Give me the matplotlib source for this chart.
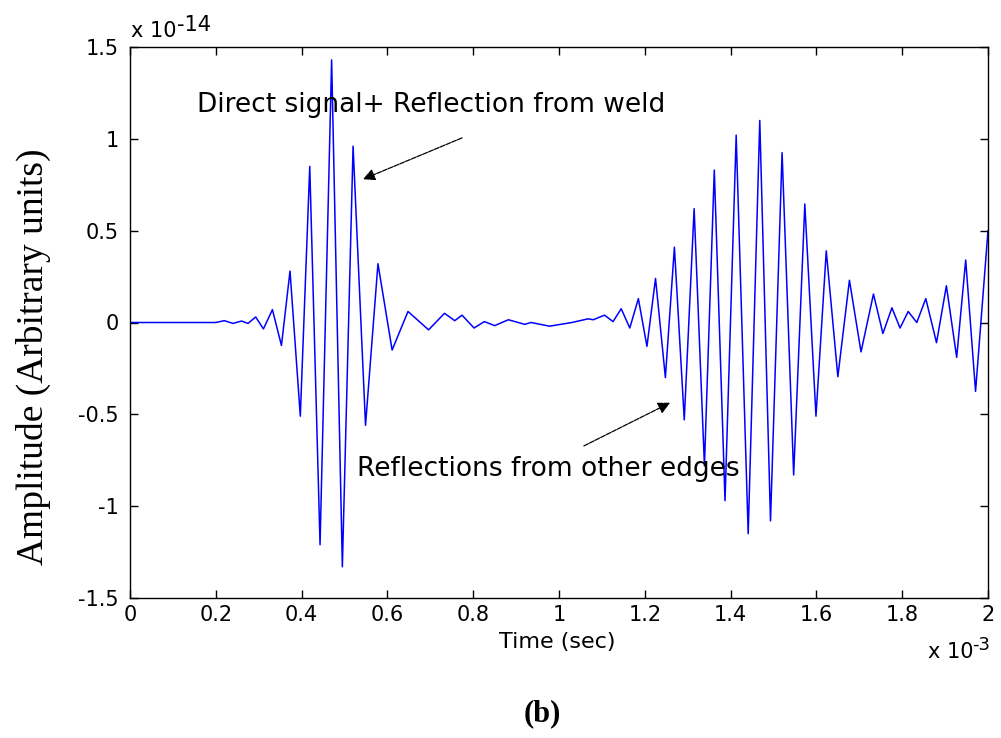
import matplotlib
matplotlib.use("Agg")
import matplotlib.pyplot as plt
import numpy as np

# received waveform, peak-to-peak turning points
# time in ms (x 10^-3 s), amplitude in units of 10^-14
time_ms = [0.0, 0.12, 0.20, 0.22, 0.24, 0.26, 0.275, 0.293, 0.311, 0.332,
           0.353, 0.373, 0.397, 0.419, 0.443, 0.470, 0.495, 0.520, 0.549, 0.578,
           0.611, 0.648, 0.696, 0.733, 0.757, 0.774, 0.802, 0.826, 0.850, 0.882,
           0.920, 0.935, 0.978, 1.030, 1.068, 1.080, 1.106, 1.126, 1.145, 1.165,
           1.185, 1.205, 1.225, 1.248, 1.269, 1.292, 1.315, 1.339, 1.362, 1.387,
           1.413, 1.441, 1.468, 1.493, 1.520, 1.547, 1.573, 1.599, 1.623, 1.650,
           1.677, 1.704, 1.733, 1.755, 1.776, 1.795, 1.814, 1.834, 1.855, 1.880,
           1.903, 1.927, 1.948, 1.971, 2.0]
amplitude = [0.0, 0.0, 0.0, 0.01, -0.005, 0.008, -0.005, 0.03, -0.035, 0.07,
             -0.125, 0.28, -0.51, 0.85, -1.21, 1.43, -1.33, 0.96, -0.56, 0.32,
             -0.15, 0.06, -0.04, 0.05, 0.01, 0.04, -0.03, 0.005, -0.017, 0.015,
             -0.01, 0.0, -0.02, 0.0, 0.02, 0.015, 0.04, 0.005, 0.075, -0.03,
             0.13, -0.13, 0.24, -0.30, 0.41, -0.53, 0.62, -0.78, 0.83, -0.97,
             1.02, -1.15, 1.10, -1.08, 0.925, -0.83, 0.645, -0.51, 0.39, -0.295,
             0.23, -0.16, 0.155, -0.06, 0.08, -0.03, 0.06, 0.0, 0.13, -0.11,
             0.20, -0.19, 0.34, -0.375, 0.50]

xticks = [0, 0.2, 0.4, 0.6, 0.8, 1, 1.2, 1.4, 1.6, 1.8, 2]
yticks = [-1.5, -1, -0.5, 0, 0.5, 1, 1.5]

sans = "DejaVu Sans"
serif = "Liberation Serif"
W, H = 1001, 738

fig = plt.figure(figsize=(W / 100, H / 100), dpi=100)
ax = fig.add_axes([130 / W, 1 - 598 / H, 858 / W, 551 / H])

ax.plot(time_ms, amplitude, color="#0000ff", lw=1.1)

ax.set_xlim(0, 2)
ax.set_ylim(-1.5, 1.5)
ax.set_xticks(xticks)
ax.set_xticklabels(["%g" % v for v in xticks], fontname=sans, fontsize=15)
ax.set_yticks(yticks)
ax.set_yticklabels(["%g" % v for v in yticks], fontname=sans, fontsize=15)
ax.tick_params(direction="in", length=6, width=1, top=True, right=True)
ax.tick_params(axis="y", pad=8)
ax.tick_params(axis="x", pad=5)
for s in ax.spines.values():
    s.set_linewidth(1.0)

fig.text(557 / W, 1 - 648 / H, "Time (sec)", fontname=sans, fontsize=16,
         ha="center", va="baseline")
fig.text(33 / W, 1 - 357 / H, "Amplitude (Arbitrary units)", fontname=serif,
         fontsize=27, rotation=90, ha="center", va="center")

# exponent labels, matlab style (full size superscript)
fig.text(131 / W, 1 - 37 / H, "x 10", fontname=sans, fontsize=15, va="baseline")
fig.text(177 / W, 1 - 31 / H, "-14", fontname=sans, fontsize=15, va="baseline")
fig.text(928 / W, 1 - 658 / H, "x 10", fontname=sans, fontsize=15, va="baseline")
fig.text(972 / W, 1 - 650 / H, "-3", fontname=sans, fontsize=13, va="baseline")

arrow = dict(arrowstyle="-|>", color="black", lw=0.9, linestyle=(0, (4, 1)),
             mutation_scale=18, shrinkA=0, shrinkB=0)
ax.annotate("", xy=(0.543, 0.78), xytext=(0.774, 1.005), arrowprops=arrow)
ax.annotate("", xy=(1.259, -0.437), xytext=(1.058, -0.672), arrowprops=arrow)

ax.text(0.156, 1.186, "Direct signal+ Reflection from weld", fontname=sans,
        fontsize=19, ha="left", va="center")
ax.text(0.529, -0.80, "Reflections from other edges", fontname=sans,
        fontsize=19, ha="left", va="center")

fig.text(542 / W, 1 - 714 / H, "(b)", fontname=serif, fontweight="bold",
         fontsize=22, ha="center", va="center")

fig.savefig("out.png", dpi=100)
